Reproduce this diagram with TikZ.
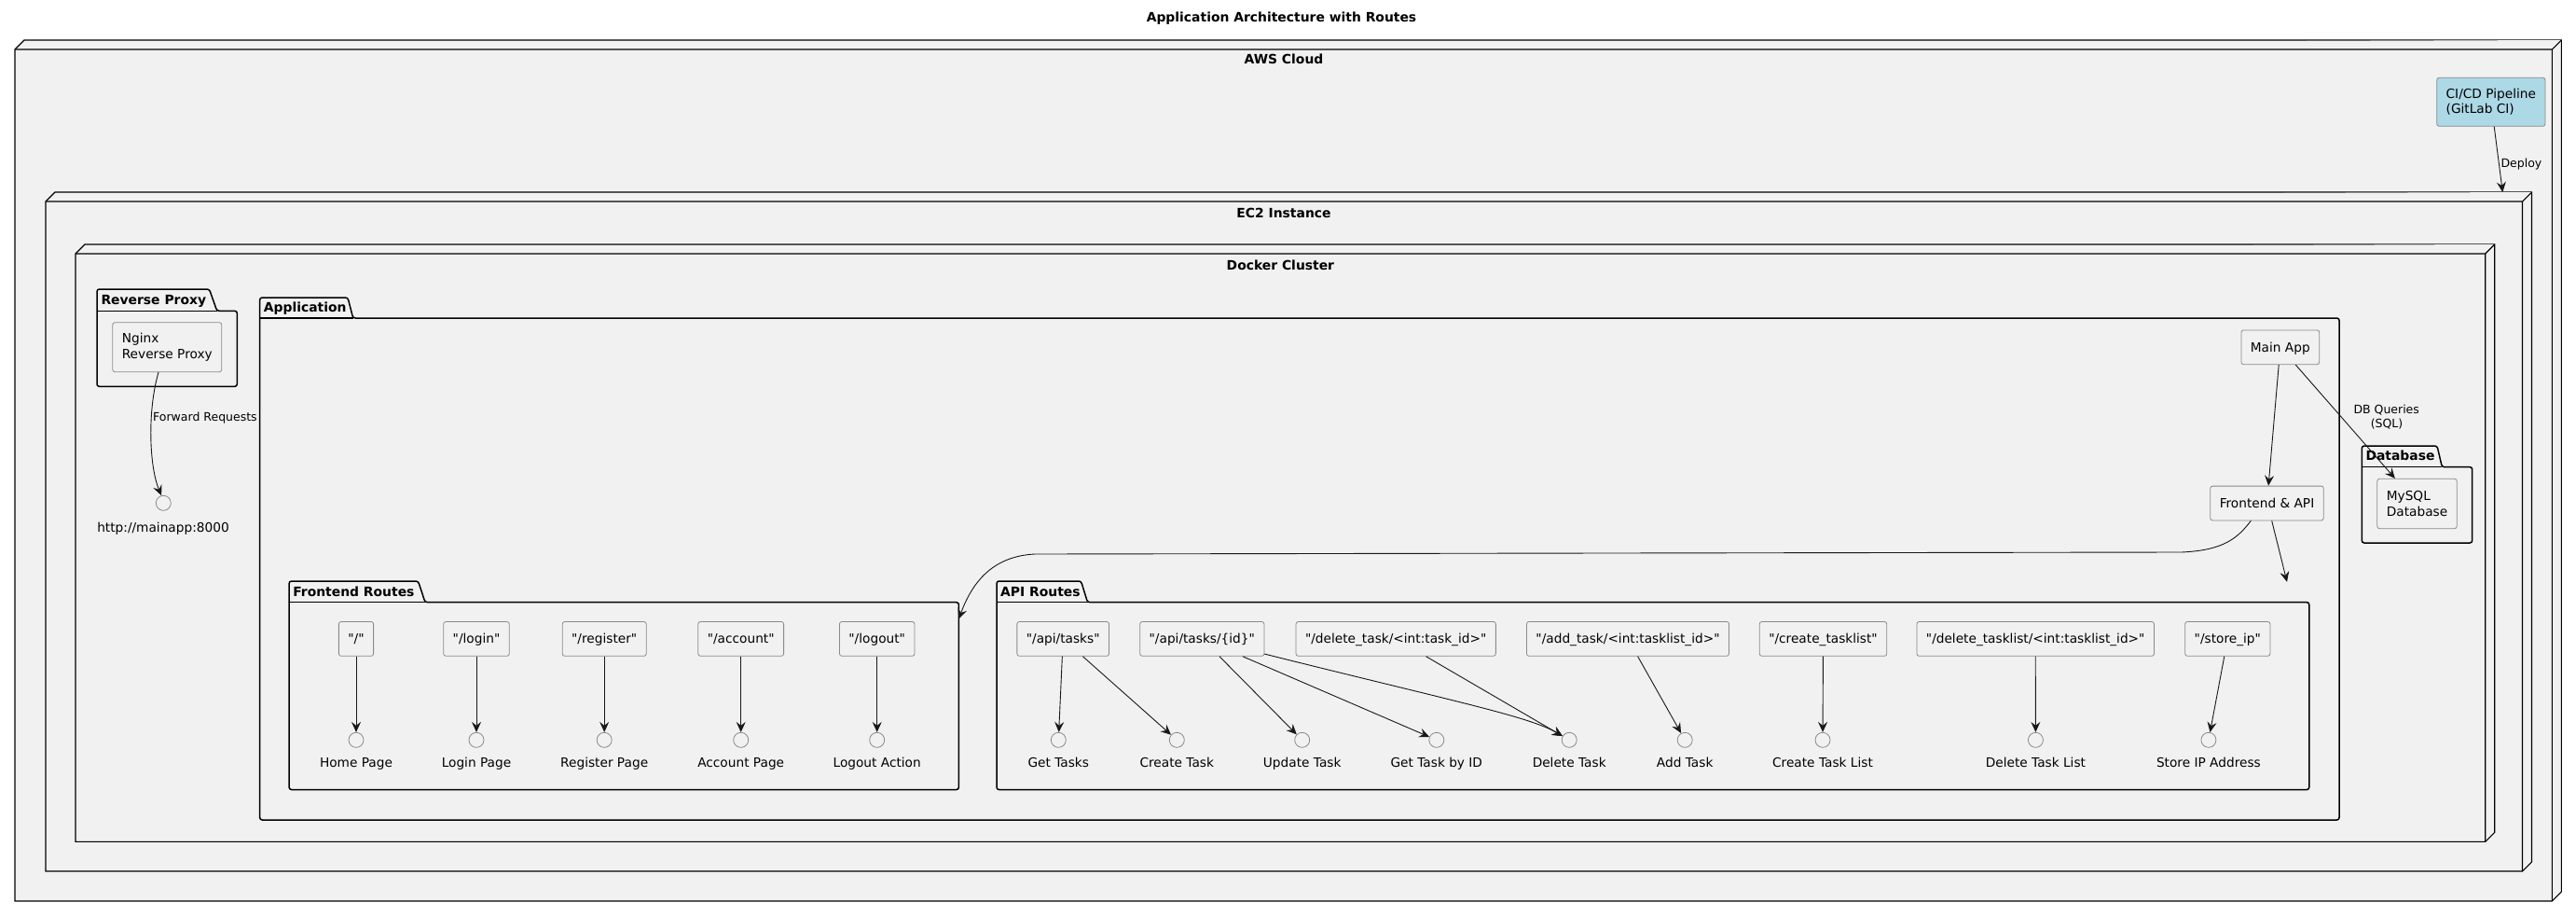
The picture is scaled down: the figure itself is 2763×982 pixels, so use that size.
\documentclass[tikz,border=0pt]{standalone}
\usepackage{fontspec}
\setmainfont{DejaVu Sans}[Ligatures=TeXOff]
\usetikzlibrary{arrows.meta}

\definecolor{bgc}{HTML}{F1F1F1}
\definecolor{boxgray}{HTML}{8A8A8A}
\definecolor{arrc}{HTML}{181818}
\definecolor{cicd}{HTML}{ADD8E6}

\newcommand{\ftxt}{\fontsize{13.7}{16.3}\selectfont}
\newcommand{\flab}{\fontsize{12.5}{14.7}\selectfont}
\newcommand{\fhead}{\fontsize{13.9}{16.5}\selectfont\bfseries}

% 3D "node" box: left, top, right, bottom of the front face
\newcommand{\cubeshape}[4]{%
  \filldraw[cube] (#1,#2) -- ({#1+10},{#2-10}) -- ({#3+10},{#2-10}) -- ({#3+10},{#4-10}) -- (#3,#4) -- (#1,#4) -- cycle;
  \draw[cube] (#1,#2) -- (#3,#2) -- ({#3+10},{#2-10}) (#3,#2) -- (#3,#4);
}
% folder-like package: left, tab top, tab top right, tab foot, body top, right, bottom
\newcommand{\pkgshape}[7]{%
  \filldraw[pkg, rounded corners=2.5pt] (#1,#7) -- (#1,#2) -- (#3,#2) -- (#4,#5) -- (#6,#5) -- (#6,#7) -- cycle;
  \draw[pkg] (#1,#5) -- (#4,#5);
}

\tikzset{
  cube/.style={draw=black, fill=bgc, line width=1.1pt, line join=miter},
  pkg/.style={draw=black, fill=bgc, line width=1.5pt},
  rbox/.style={draw=boxgray, fill=bgc, rounded corners=2.5pt, line width=0.8pt,
    inner xsep=10pt, inner ysep=0pt, font=\ftxt, text height=10pt, text depth=0pt,
    minimum height=36.8pt},
  mbox/.style={draw=boxgray, fill=bgc, rounded corners=2.5pt, line width=0.8pt,
    inner xsep=10pt, inner ysep=0pt, font=\ftxt, align=left, minimum height=53pt},
  iface/.style={circle, draw=boxgray, fill=bgc, line width=0.8pt, minimum size=16pt, inner sep=0pt},
  head/.style={font=\fhead, inner sep=0pt},
  txt/.style={font=\ftxt, inner sep=0pt},
  elab/.style={font=\flab, inner sep=0pt},
  conn/.style={draw=arrc, line width=0.9pt, -{Stealth[length=11pt,width=10pt,inset=4pt]}},
}

\begin{document}
\begin{tikzpicture}[x=1pt,y=-1pt]
\useasboundingbox (0,0) rectangle (2763,982);
\fill[white] (0,0) rectangle (2763,982);

% title
\node[head, anchor=base] (title) at (1374.5,23.3) {Application Architecture with Routes};

% nested deployment nodes
\cubeshape{16}{53}{2737.3}{966}
\node[head, anchor=base] (awsl) at (1377,69) {AWS Cloud};
\cubeshape{49}{216}{2705.5}{934}
\node[head, anchor=base] (ec2l) at (1377,233.8) {EC2 Instance};
\cubeshape{81}{272}{2665.7}{902.3}
\node[head, anchor=base] (dockl) at (1373.4,289.5) {Docker Cluster};

% packages
\pkgshape{104}{310}{224.5}{232.7}{333.3}{254.3}{414.3}
\node[head, anchor=base west] (rpl) at (108.3,326.7) {Reverse Proxy};
\pkgshape{278.7}{319}{373}{378.7}{341}{2509}{879}
\node[head, anchor=base west] (appl) at (282.7,334.3) {Application};
\pkgshape{310.1}{623}{448.5}{456}{645.7}{1028.4}{846.5}
\node[head, anchor=base west] (frl) at (314.1,639.2) {Frontend Routes};
\pkgshape{1069}{623}{1159.5}{1166.5}{645.7}{2476.8}{846.5}
\node[head, anchor=base west] (apil) at (1073,639.2) {API Routes};
\pkgshape{2533.3}{478}{2614}{2619.3}{500.7}{2651.7}{582}
\node[head, anchor=base west] (dbl) at (2537.3,493.3) {Database};

% components
\node[mbox, fill=cicd, minimum height=52pt] (ci) at (2671.8,109.3) {CI/CD Pipeline\\(GitLab CI)};
\node[mbox] (ng) at (179.3,372.2) {Nginx\\Reverse Proxy};
\node[rbox] (main) at (2445.8,372.3) {Main App};
\node[rbox] (fa) at (2431.5,539.5) {Frontend \& API};
\node[mbox, minimum height=53.4pt] (db) at (2592.5,540) {MySQL\\Database};

\node[iface] (http) at (175.3,539.3) {};
\node[txt, anchor=base] (httpl) at (175,570) {http://mainapp:8000};

% frontend routes
\node[rbox] (r1) at (382,684.9) {"/"};
\node[rbox] (r2) at (511,684.9) {"/login"};
\node[rbox] (r3) at (648.2,684.9) {"/register"};
\node[rbox] (r4) at (794.7,684.9) {"/account"};
\node[rbox] (r5) at (940.7,684.9) {"/logout"};
\node[iface] (c1) at (382,793.3) {};
\node[iface] (c2) at (511,793.3) {};
\node[iface] (c3) at (648.2,793.3) {};
\node[iface] (c4) at (794.7,793.3) {};
\node[iface] (c5) at (940.7,793.3) {};
\node[txt, anchor=base] (c1l) at (382,822.7) {Home Page};
\node[txt, anchor=base] (c2l) at (511,822.7) {Login Page};
\node[txt, anchor=base] (c3l) at (648.2,822.7) {Register Page};
\node[txt, anchor=base] (c4l) at (794.7,822.7) {Account Page};
\node[txt, anchor=base] (c5l) at (940.7,822.7) {Logout Action};

% api routes
\node[rbox] (a1) at (1140.2,684.9) {"/api/tasks"};
\node[rbox] (a2) at (1289.3,684.9) {"/api/tasks/\{id\}"};
\node[rbox] (a3) at (1497.2,684.9) {"/delete\_task/<int:task\_id>"};
\node[rbox] (a4) at (1746,684.9) {"/add\_task/<int:tasklist\_id>"};
\node[rbox] (a5) at (1955.5,684.9) {"/create\_tasklist"};
\node[rbox] (a6) at (2183.2,684.9) {"/delete\_tasklist/<int:tasklist\_id>"};
\node[rbox] (a7) at (2389.3,684.9) {"/store\_ip"};
\node[iface] (g1) at (1135.3,793.3) {};
\node[iface] (g2) at (1262.3,793.3) {};
\node[iface] (g3) at (1396.7,793.3) {};
\node[iface] (g4) at (1540.8,793.3) {};
\node[iface] (g5) at (1683.2,793.3) {};
\node[iface] (g6) at (1807.2,793.3) {};
\node[iface] (g7) at (1955,793.3) {};
\node[iface] (g8) at (2183.4,793.3) {};
\node[iface] (g9) at (2368.9,793.3) {};
\node[txt, anchor=base] (g1l) at (1135.3,822.7) {Get Tasks};
\node[txt, anchor=base] (g2l) at (1262.3,822.7) {Create Task};
\node[txt, anchor=base] (g3l) at (1396.7,822.7) {Update Task};
\node[txt, anchor=base] (g4l) at (1540.8,822.7) {Get Task by ID};
\node[txt, anchor=base] (g5l) at (1683.2,822.7) {Delete Task};
\node[txt, anchor=base] (g6l) at (1807.2,822.7) {Add Task};
\node[txt, anchor=base] (g7l) at (1955,822.7) {Create Task List};
\node[txt, anchor=base] (g8l) at (2183.4,822.7) {Delete Task List};
\node[txt, anchor=base] (g9l) at (2368.9,822.7) {Store IP Address};

% free arrow ends on container borders
\coordinate (ec2in) at (2684.3,206);
\coordinate (frin) at (1028.4,663.5);
\coordinate (apiin) at (2453,623.8);

% connectors
\draw[conn] (ci) -- (ec2in);
\node[elab, anchor=base west] (deployl) at (2682.3,179.5) {Deploy};

\draw[conn] ([xshift=-9.3pt]ng.south) .. controls (158,440) and (160,500) .. (http.105);
\node[elab, anchor=base west] (fwdl) at (164,451.2) {Forward Requests};

\draw[conn] (main) -- (fa);
\draw[conn] (main) -- (db);
\node[elab, anchor=base] (dbq1) at (2559.7,443.8) {DB Queries};
\node[elab, anchor=base] (dbq2) at (2560,458.5) {(SQL)};

\draw[conn] ([xshift=-17.2pt]fa.south) .. controls (2400,577) and (2385,590) .. (2340,592)
  -- (1110,594) .. controls (1070,596) and (1045,618) .. (frin);
\draw[conn] ([xshift=5.2pt]fa.south) -- (apiin);

\foreach \i in {1,...,5} { \draw[conn] (r\i) -- (c\i); }

\draw[conn] (a1) -- (g1);
\draw[conn] (a1) -- (g2);
\draw[conn] (a2) -- (g3);
\draw[conn] (a2) -- (g4);
\draw[conn] ([yshift=2.6pt]a2.south east) .. controls (1560,752) and (1640,768) .. (g5);
\draw[conn] (a3) -- (g5);
\draw[conn] (a4) -- (g6);
\draw[conn] (a5) -- (g7);
\draw[conn] (a6) -- (g8);
\draw[conn] (a7) -- (g9);
\end{tikzpicture}
\end{document}
